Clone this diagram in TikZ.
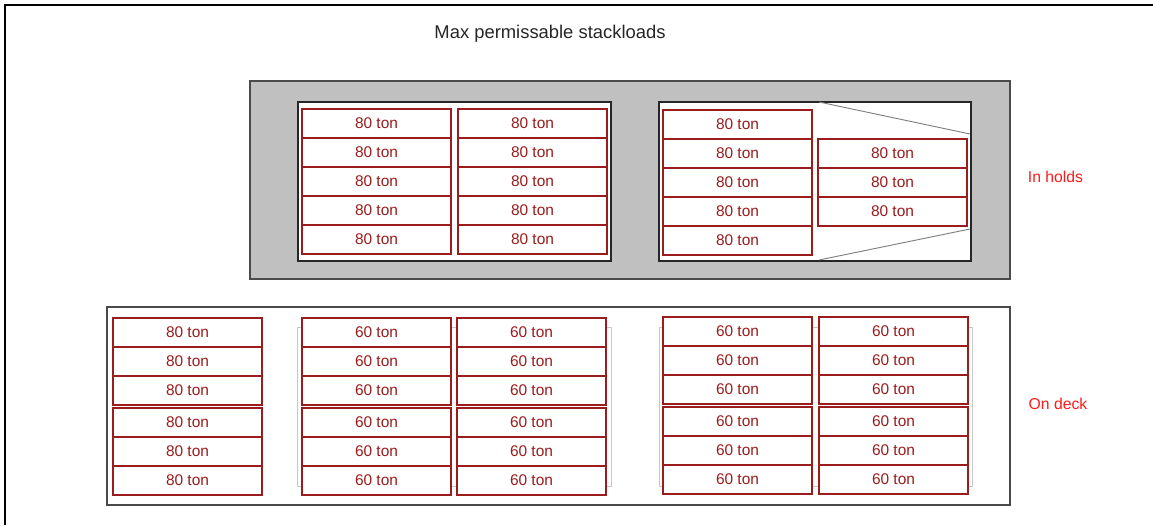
\documentclass[tikz,border=0pt]{standalone}
\usepackage{fontspec}
\setmainfont{Liberation Sans}
\usetikzlibrary{positioning}
\definecolor{cmaroon}{HTML}{9A1C1C}
\definecolor{cred}{HTML}{FF1A1A}
\definecolor{cgrey}{HTML}{C0C0C0}
\definecolor{cdark}{HTML}{4A4A4A}
\definecolor{clight}{HTML}{C8C8C8}
\definecolor{ctaper}{HTML}{808080}

\begin{document}
\begin{tikzpicture}[
  x=0.75pt, y=-0.75pt,
  cell/.style={
    draw=cmaroon, fill=white, text=cmaroon,
    line width=0.9pt, minimum width=111.75pt, minimum height=21.75pt,
    inner sep=0pt, font=\fontsize{11.6}{12}\selectfont
  },
  bay/.style={
    draw=black!85, fill=white, line width=0.9pt,
    minimum height=119.25pt, inner sep=0pt
  },
  shadow/.style={
    draw=clight, line width=0.7pt, minimum width=235pt,
    minimum height=119.25pt, inner sep=0pt
  },
  side/.style={text=cred, font=\fontsize{11.8}{12}\selectfont}
]
\useasboundingbox (0,0) rectangle (1153,525);

% ============================================================
% Frame and heading
\draw[line width=1pt] (5,525) -- (5,5) -- (1153,5);
\node[black!85, font=\fontsize{13.8}{14}\selectfont] (title) at (550,34)
  {Max permissable stackloads};

% ============================================================
% Holds: grey hull with two white bays
\node[draw=cdark, fill=cgrey, line width=0.9pt, minimum width=570pt,
      minimum height=148.5pt, inner sep=0pt] (hold) at (630,180) {};
\node[bay, minimum width=234.75pt] (bayA) at (454.5,181.5) {};
\node[bay, minimum width=234pt] (bayB) at (815,181.5) {};

% Tapered forward bay
\coordinate (taperNW) at (819,102);
\coordinate (taperNE) at (970,134);
\coordinate (taperSW) at (819,260);
\coordinate (taperSE) at (970,229);
\draw[ctaper, line width=0.7pt] (taperNW) -- (taperNE);
\draw[ctaper, line width=0.7pt] (taperSW) -- (taperSE);

% Stacks in the holds
\foreach \r in {1,...,5} {
  \node[cell] (hA\r) at (376.5, {94.5+29*\r}) {80 ton};
  \node[cell] (hB\r) at (532.5, {94.5+29*\r}) {80 ton};
  \node[cell] (hC\r) at (737.5, {95.5+29*\r}) {80 ton};
}
\foreach \r in {1,...,3} {
  \node[cell] (hD\r) at (892.5, {124.5+29*\r}) {80 ton};
}

\node[side] (holdlbl) at (1055.5,177) {In holds};

% ============================================================
% Deck: outline, hatch covers, and stacks of two tiers each
\node[draw=cdark, line width=0.9pt, minimum width=677.25pt,
      minimum height=148.5pt, inner sep=0pt] (deck) at (558.5,406) {};
\node[shadow] (coverA) at (454.5,406.5) {};
\node[shadow] (coverB) at (816,406.5) {};

\foreach \r in {1,...,3} {
  \node[cell] (dA\r) at (187.5, {303.5+29*\r}) {80 ton};
  \node[cell] (dA\r x) at (187.5, {393.5+29*\r}) {80 ton};
  \node[cell] (dB\r) at (376.5, {303.5+29*\r}) {60 ton};
  \node[cell] (dB\r x) at (376.5, {393.5+29*\r}) {60 ton};
  \node[cell] (dC\r) at (531.5, {303.5+29*\r}) {60 ton};
  \node[cell] (dC\r x) at (531.5, {393.5+29*\r}) {60 ton};
  \node[cell] (dD\r) at (737.5, {302.5+29*\r}) {60 ton};
  \node[cell] (dD\r x) at (737.5, {392.5+29*\r}) {60 ton};
  \node[cell] (dE\r) at (893.5, {302.5+29*\r}) {60 ton};
  \node[cell] (dE\r x) at (893.5, {392.5+29*\r}) {60 ton};
}

\node[side] (decklbl) at (1058,404) {On deck};

\end{tikzpicture}
\end{document}
